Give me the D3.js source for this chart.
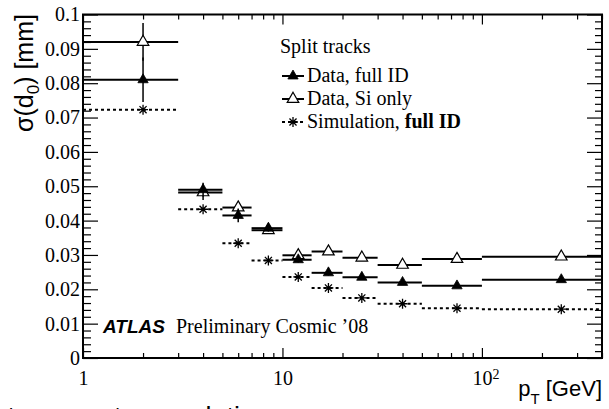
<!DOCTYPE html>
<html>
<head>
<meta charset="utf-8">
<title>d0 resolution</title>
<script src="https://cdn.jsdelivr.net/npm/d3@7"></script>
<style>
  body {margin:0; background:#fff; overflow:hidden;}
  svg {display:block;}
  svg text {fill:#000;}
  .serif {font-family:"Liberation Serif","Times New Roman",serif;}
  .sans {font-family:"Liberation Sans",Arial,Helvetica,sans-serif;}
</style>
</head>
<body>
<script>
// bins in pT [GeV]
var binLo     = [1, 3, 5, 7, 10, 14, 20, 30, 50, 100];
var binHi     = [3, 5, 7, 10, 14, 20, 30, 50, 100, 400];
var binCenter = [2, 4, 6, 8.5, 12, 17, 25, 40, 75, 250];

// sigma(d0) [mm]
var dataFull    = [0.0810, 0.0490, 0.0415, 0.0378, 0.0286, 0.0248, 0.0235, 0.0220, 0.0210, 0.0228];
var dataFullErr = [0.0065, 0.0020, 0.0020, 0.0010, 0.0008, 0.0008, 0.0006, 0.0006, 0.0006, 0.0006];
var dataSi      = [0.0920, 0.0482, 0.0438, 0.0372, 0.0299, 0.0310, 0.0292, 0.0271, 0.0288, 0.0295];
var dataSiErr   = [0.0055, 0.0022, 0.0015, 0.0010, 0.0008, 0.0008, 0.0006, 0.0006, 0.0006, 0.0006];
var simFull     = [0.0723, 0.0433, 0.0334, 0.0284, 0.0236, 0.0204, 0.0175, 0.0158, 0.0145, 0.0142];
var simFullErr  = [0.0004, 0.0004, 0.0004, 0.0003, 0.0003, 0.0003, 0.0003, 0.0003, 0.0003, 0.0003];

var yTicks      = [0, 0.01, 0.02, 0.03, 0.04, 0.05, 0.06, 0.07, 0.08, 0.09, 0.1];
var yTickLabels = ["0", "0.01", "0.02", "0.03", "0.04", "0.05", "0.06", "0.07", "0.08", "0.09", "0.1"];
var xTicks      = [1, 10, 100];
var xTickLabels = ["1", "10", "10^2"];

var legendLabels = ["Data, full ID", "Data, Si only", "Simulation, full ID"];

var width = 609, height = 409,
    pLeft = 83, pRight = 602, pTop = 14.5, pBottom = 358;

var svg = d3.select('body').append('svg')
  .attr('width', width)
  .attr('height', height);

var x = d3.scaleLog().domain([1, 400]).range([pLeft, pRight]);
var y = d3.scaleLinear().domain([0, 0.1]).range([pBottom, pTop]);

var xMinor = x.ticks().filter(function(d){ return xTicks.indexOf(d) < 0; });
var yMinor = y.ticks(50).filter(function(d){ return Math.abs(Math.round(d*100) - d*100) > 1e-6; });

function clean(g){
  g.select('.domain').remove();
  g.selectAll('line').attr('stroke', '#000').attr('stroke-width', 1.2);
  g.attr('font-family', null).attr('font-size', null);
}

// left axis
svg.append('g').attr('transform', 'translate(' + pLeft + ',0)')
  .call(d3.axisLeft(y).tickValues(yMinor).tickSize(-8).tickFormat(''))
  .call(clean);
svg.append('g').attr('class', 'serif').attr('transform', 'translate(' + pLeft + ',0)')
  .call(d3.axisLeft(y).tickValues(yTicks).tickSize(-15).tickPadding(3)
    .tickFormat(function(d, i){ return yTickLabels[i]; }))
  .call(clean)
  .selectAll('text').style('font-size', '20px');

// right axis
svg.append('g').attr('transform', 'translate(' + pRight + ',0)')
  .call(d3.axisRight(y).tickValues(yMinor).tickSize(-7).tickFormat(''))
  .call(clean);
svg.append('g').attr('transform', 'translate(' + pRight + ',0)')
  .call(d3.axisRight(y).tickValues(yTicks).tickSize(-15).tickFormat(''))
  .call(clean);

// bottom axis
svg.append('g').attr('transform', 'translate(0,' + pBottom + ')')
  .call(d3.axisBottom(x).tickValues(xMinor).tickSize(-5).tickFormat(''))
  .call(clean);
var xb = svg.append('g').attr('class', 'serif').attr('transform', 'translate(0,' + pBottom + ')')
  .call(d3.axisBottom(x).tickValues(xTicks).tickSize(-10).tickPadding(13)
    .tickFormat(function(d, i){ return xTickLabels[i]; }))
  .call(clean);
xb.selectAll('text').style('font-size', '20px').each(function(){
  var t = d3.select(this), s = t.text();
  if (s.indexOf('^') > 0) {
    var p = s.split('^');
    t.text(null).attr('text-anchor', 'start').attr('x', -10);
    t.append('tspan').text(p[0]);
    t.append('tspan').attr('dy', '-0.45em').style('font-size', '14px').text(p[1]);
  }
});

// top axis
svg.append('g').attr('transform', 'translate(0,' + pTop + ')')
  .call(d3.axisTop(x).tickValues(xMinor).tickSize(-5).tickFormat(''))
  .call(clean);
svg.append('g').attr('transform', 'translate(0,' + pTop + ')')
  .call(d3.axisTop(x).tickValues(xTicks).tickSize(-10).tickFormat(''))
  .call(clean);

// frame
svg.append('rect')
  .attr('x', pLeft).attr('y', pTop)
  .attr('width', pRight - pLeft).attr('height', pBottom - pTop)
  .attr('fill', 'none').attr('stroke', '#000').attr('stroke-width', 2);

// axis titles
var yt = svg.append('text').attr('class', 'sans')
  .attr('transform', 'translate(33,132) rotate(-90)')
  .style('font-size', '25px');
yt.append('tspan').text('σ(d');
yt.append('tspan').attr('dy', 6).style('font-size', '17px').text('0');
yt.append('tspan').attr('dy', -6).text(') [mm]');

var xt = svg.append('text').attr('class', 'sans')
  .attr('x', pRight).attr('y', 396).attr('text-anchor', 'end')
  .style('font-size', '22px');
xt.append('tspan').text('p');
xt.append('tspan').attr('dy', 8).style('font-size', '15px').text('T');
xt.append('tspan').attr('dy', -8).text(' [GeV]');

// markers
var triFilled = d3.symbol().type(d3.symbolTriangle).size(46);
var triOpen = d3.symbol().type(d3.symbolTriangle).size(58);
function star(r){
  var a = r * Math.SQRT1_2;
  return 'M' + (-r) + ',0L' + r + ',0M0,' + (-r) + 'L0,' + r +
    'M' + (-a) + ',' + (-a) + 'L' + a + ',' + a + 'M' + (-a) + ',' + a + 'L' + a + ',' + (-a);
}

function series(vals, errs, dash){
  var g = svg.append('g').attr('stroke', '#000').attr('stroke-width', 2);
  g.selectAll('line.h').data(vals).enter().append('line')
    .attr('x1', function(d, i){ return x(binLo[i]); })
    .attr('x2', function(d, i){ return x(binHi[i]); })
    .attr('y1', function(d){ return y(d); })
    .attr('y2', function(d){ return y(d); })
    .attr('stroke-dasharray', dash || null);
  g.selectAll('line.v').data(vals).enter().append('line')
    .attr('stroke-width', 1.5)
    .attr('x1', function(d, i){ return x(binCenter[i]); })
    .attr('x2', function(d, i){ return x(binCenter[i]); })
    .attr('y1', function(d, i){ return y(d - errs[i]); })
    .attr('y2', function(d, i){ return y(d + errs[i]); });
  return g;
}

var gSim = series(simFull, simFullErr, '3,3');
var gSi = series(dataSi, dataSiErr);
var gFull = series(dataFull, dataFullErr);

gSim.selectAll('path').data(simFull).enter().append('path')
  .attr('d', star(5)).attr('stroke-width', 1.3).attr('fill', 'none')
  .attr('transform', function(d, i){ return 'translate(' + x(binCenter[i]) + ',' + y(d) + ')'; });
gSi.selectAll('path').data(dataSi).enter().append('path')
  .attr('d', triOpen).attr('fill', '#fff').attr('stroke-width', 1.2)
  .attr('transform', function(d, i){ return 'translate(' + x(binCenter[i]) + ',' + y(d) + ')'; });
gFull.selectAll('path').data(dataFull).enter().append('path')
  .attr('d', triFilled).attr('fill', '#000').attr('stroke-width', 0.8)
  .attr('transform', function(d, i){ return 'translate(' + x(binCenter[i]) + ',' + y(d) + ')'; });

// legend
var lg = svg.append('g').attr('class', 'serif').style('font-size', '20px');
lg.append('text').attr('x', 280).attr('y', 53).text('Split tracks');
var rows = [82, 105, 128];
rows.forEach(function(ry, i){
  var cy = ry - 6;
  lg.append('line').attr('x1', 282).attr('x2', 304).attr('y1', cy).attr('y2', cy)
    .attr('stroke', '#000').attr('stroke-width', 2)
    .attr('stroke-dasharray', i == 2 ? '3,3' : null);
  var m = lg.append('path').attr('stroke', '#000')
    .attr('transform', 'translate(293,' + cy + ')');
  if (i == 0) m.attr('d', triFilled).attr('fill', '#000').attr('stroke-width', 0.8);
  if (i == 1) m.attr('d', triOpen).attr('fill', '#fff').attr('stroke-width', 1.2);
  if (i == 2) m.attr('d', star(5)).attr('fill', 'none').attr('stroke-width', 1.3);
  var t = lg.append('text').attr('x', 307).attr('y', ry);
  if (i == 2) {
    t.append('tspan').text('Simulation, ');
    t.append('tspan').style('font-weight', 'bold').text('full ID');
  } else {
    t.text(legendLabels[i]);
  }
});

// ATLAS label
svg.append('text').attr('class', 'sans')
  .attr('x', 103).attr('y', 333)
  .style('font-size', '19px').style('font-weight', 'bold').style('font-style', 'italic')
  .text('ATLAS');
svg.append('text').attr('class', 'serif')
  .attr('x', 176).attr('y', 333)
  .style('font-size', '20px')
  .text('Preliminary Cosmic ’08');

// caption cut off at the bottom edge
svg.append('text').attr('class', 'sans')
  .attr('x', -66).attr('y', 426)
  .style('font-size', '27px')
  .text('Impact parameter resolution');
</script>
</body>
</html>
